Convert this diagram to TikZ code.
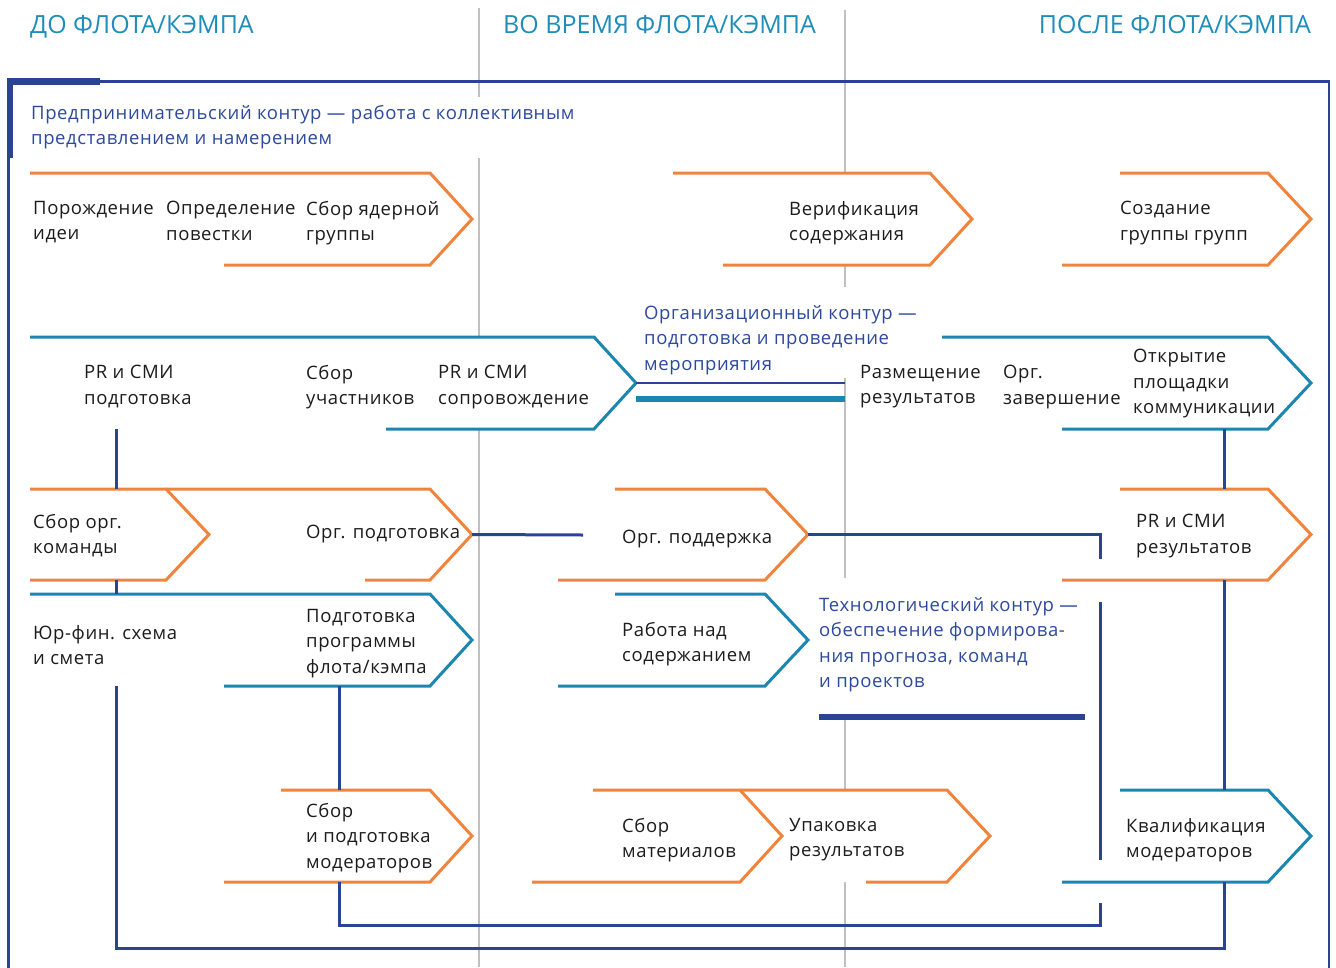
\documentclass[tikz,border=0pt]{standalone}
\usepackage{fontspec}
\setmainfont{Open Sans}[LetterSpace=3.2]
\newfontfamily\headfont{Open Sans}

\definecolor{orng}{RGB}{240,132,60}
\definecolor{teal}{RGB}{27,135,176}
\definecolor{dblue}{RGB}{42,67,146}
\definecolor{headc}{RGB}{30,141,186}
\definecolor{lblue}{RGB}{44,73,155}
\definecolor{grayl}{RGB}{192,192,192}
\definecolor{ink}{RGB}{28,28,28}

\newif\ifchevfill
% #1 name, #2 colour, #3 fill left, #4 top start, #5 bottom start,
% #6 corner x, #7 tip x, #8 top y, #9 bottom y
\newcommand\chev[9]{%
  \ifchevfill
    \fill[white] (#3,#8) -- (#6,#8) -- (#7,{(#8+#9)/2}) -- (#6,#9) -- (#3,#9) -- cycle;
  \else
    \draw[chevline, draw=#2] (#4,#8) -- (#6,#8) -- (#7,{(#8+#9)/2}) -- (#6,#9) -- (#5,#9);
    \coordinate (#1-t) at (#6,#8);
    \coordinate (#1-b) at (#6,#9);
    \coordinate (#1-tip) at (#7,{(#8+#9)/2});
  \fi}

\newcommand\allchevrons{%
  \chev{c1}{orng}{30}{30}{224}{430}{472}{173}{265}
  \chev{c2}{orng}{673}{673}{723}{930}{972}{173}{265}
  \chev{c3}{orng}{1062}{1120}{1062}{1268}{1311}{173}{265}
  \chev{c4}{teal}{30}{30}{386}{594}{636}{337}{429}
  \chev{c5}{teal}{942}{942}{1062}{1268}{1311}{337}{429}
  \chev{c7}{orng}{166}{166}{365}{430}{472}{489}{580}
  \chev{c6}{orng}{30}{30}{30}{166}{209}{489}{580}
  \chev{c8}{orng}{558}{615}{558}{765}{808}{489}{580}
  \chev{c9}{orng}{1062}{1120}{1062}{1268}{1311}{489}{580}
  \chev{c10}{teal}{30}{30}{224}{430}{472}{594}{686}
  \chev{c11}{teal}{558}{615}{558}{765}{808}{594}{686}
  \chev{c12}{orng}{224}{281}{224}{430}{472}{790}{882}
  \chev{c14}{orng}{740}{740}{866}{947}{990}{790}{882}
  \chev{c13}{orng}{532}{593}{532}{740}{782}{790}{882}
  \chev{c15}{teal}{1062}{1120}{1062}{1268}{1311}{790}{882}}

\begin{document}
\begin{tikzpicture}[x=1pt,y=-1pt,
  chevline/.style={line width=3pt, line join=miter},
  conn/.style={draw=dblue, line width=3pt},
  divider/.style={draw=grayl, line width=2.4pt},
  txt/.style={anchor=north west, inner sep=0pt, align=left, text=ink,
    font=\fontsize{18.5}{25.5}\selectfont},
  lbl/.style={txt, text=lblue},
  head/.style={inner sep=0pt, text=headc, anchor=base,
    font=\headfont\fontsize{25}{30}\selectfont}]
\useasboundingbox (0,0) rectangle (1336,967);

% period dividers
\draw[divider] (479,8) -- (479,97) (479,158) -- (479,967);
\draw[divider] (845,10) -- (845,287) (845,378) -- (845,578) (845,720) -- (845,967);

% outer frame with the heavier corner mark
\draw[dblue, line width=2.8pt] (8.8,970) -- (8.8,81.5) -- (1329,81.5) -- (1329,970);
\fill[dblue] (7,78) rectangle (13,158);
\fill[dblue] (7,78) rectangle (100,85);

% stages: white bodies first, then outlines
\chevfilltrue\allchevrons
\chevfillfalse\allchevrons

% spine positions for the connectors
\coordinate (xa) at (116,0);
\coordinate (xb) at (339,0);
\coordinate (xc) at (1100,0);
\coordinate (xd) at (1224,0);
\coordinate (g1) at (583,535);
\coordinate (org) at (845,383);
\coordinate (orgt) at (845,399);
\coordinate (th1) at (819,717);
\coordinate (th2) at (1085,717);
\coordinate (yb1) at (0,948);
\coordinate (yb2) at (0,925);
\coordinate (gap1) at (0,559);
\coordinate (gap2) at (0,602);
\coordinate (gap3) at (0,860);
\coordinate (gap4) at (0,903);

\draw[conn] (c4-b -| xa) -- (c6-t -| xa);
\draw[conn] (c6-b -| xa) -- (c10-t -| xa);
\draw[conn] (c10-b -| xa) -- (yb1 -| xa) -- (yb1 -| xd) -- (c15-b -| xd);
\draw[conn] (c5-b -| xd) -- (c9-t -| xd);
\draw[conn] (c9-b -| xd) -- (c15-t -| xd);
\draw[conn] (c10-b -| xb) -- (c12-t -| xb);
\draw[conn] (c7-tip) -- (g1);
\draw[conn] (c8-tip) -- (c8-tip -| xc) -- (gap1 -| xc);
\draw[conn] (gap2 -| xc) -- (gap3 -| xc);
\draw[conn] (gap4 -| xc) -- (yb2 -| xc) -- (yb2 -| xb) -- (c12-b -| xb);
\draw[conn, line width=2.6pt] (c4-tip) -- (org);
\draw[teal, line width=6pt] (c4-tip |- orgt) -- (orgt);
\draw[dblue, line width=6pt] (th1) -- (th2);

% period headings
\node[head, anchor=base west] (h1) at (30,33) {ДО ФЛОТА/КЭМПА};
\node[head, anchor=base west] (h2) at (503,33) {ВО ВРЕМЯ ФЛОТА/КЭМПА};
\node[head, anchor=base east] (h3) at (1311,33) {ПОСЛЕ ФЛОТА/КЭМПА};

% contour captions
\node[lbl] (k1) at (31,105) {Предпринимательский контур — работа с коллективным\\представлением и намерением};
\node[lbl] (k2) at (644,305) {Организационный контур —\\подготовка и проведение\\мероприятия};
\node[lbl] (k3) at (819,597) {Технологический контур —\\обеспечение формирова-\\ния прогноза, команд\\и проектов};

% stage captions
\node[txt] (t1) at (33,201) {Порождение\\идеи};
\node[txt] (t2) at (166,201) {Определение\\повестки};
\node[txt] (t3) at (306,201) {Сбор ядерной\\группы};
\node[txt] (t4) at (789,201) {Верификация\\содержания};
\node[txt] (t5) at (1120,201) {Создание\\группы групп};
\node[txt] (t6) at (84,365) {PR и СМИ\\подготовка};
\node[txt] (t7) at (306,365) {Сбор\\участников};
\node[txt] (t8) at (438,365) {PR и СМИ\\сопровождение};
\node[txt] (t9) at (860,365) {Размещение\\результатов};
\node[txt] (t10) at (1003,365) {Орг.\\завершение};
\node[txt] (t11) at (1133,349) {Открытие\\площадки\\коммуникации};
\node[txt] (t12) at (33,514) {Сбор орг.\\команды};
\node[txt] (t13) at (306,525) {Орг. подготовка};
\node[txt] (t14) at (622,530) {Орг. поддержка};
\node[txt] (t15) at (1136,514) {PR и СМИ\\результатов};
\node[txt] (t16) at (33,625) {Юр-фин. схема\\и смета};
\node[txt] (t17) at (306,609) {Подготовка\\программы\\флота/кэмпа};
\node[txt] (t18) at (622,622) {Работа над\\содержанием};
\node[txt] (t19) at (306,803) {Сбор\\и подготовка\\модераторов};
\node[txt] (t20) at (622,818) {Сбор\\материалов};
\node[txt] (t21) at (789,818) {Упаковка\\результатов};
\node[txt] (t22) at (1126,818) {Квалификация\\модераторов};
\end{tikzpicture}
\end{document}
